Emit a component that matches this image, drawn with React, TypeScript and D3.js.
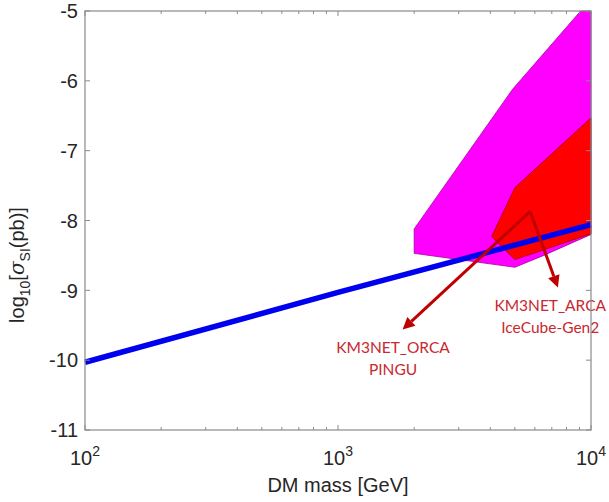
import * as d3 from "d3";

const W = 609;
const H = 502;
const margin = { top: 11, right: 18, bottom: 72, left: 85 };

// axis ticks
const xTickValues = [100, 1000, 10000];
const xTickExponents = ["2", "3", "4"];
const yTickValues = [-11, -10, -9, -8, -7, -6, -5];

// blue limit line
const lineMass = [100, 1000, 10000];
const lineSigma = [-10.03, -9.03, -8.06];

// magenta region (PINGU / ORCA)
const pinkMass = [2000, 2000, 5000, 6500, 10000, 10000, 9100, 4900];
const pinkSigma = [-8.12, -8.47, -8.67, -8.5, -8.2, -5, -5, -6.12];

// red region (ARCA / IceCube-Gen2)
const redMass = [10000, 5000, 4050, 5000, 10000];
const redSigma = [-6.53, -7.53, -8.23, -8.56, -8.19];

// annotation arrows, both start from the same point
const arrowFromMass = 5750;
const arrowFromSigma = -7.87;
const arrowToMass = [7400, 1800];
const arrowToSigma = [-8.96, -9.56];

// annotation labels
const labelLines = [
  ["KM3NET_ARCA", "IceCube-Gen2"],
  ["KM3NET_ORCA", "PINGU"],
];
const labelMass = [6900, 1650];
const labelSigma = [-9.29, -9.9];

const axisFont = "'Liberation Sans', Arial, sans-serif";
const noteColor = "#c8282e";
const arrowColor = "#c00000";

export default function App() {
  const innerW = W - margin.left - margin.right;
  const innerH = H - margin.top - margin.bottom;

  // log scale for mass, linear for log10(sigma)
  const x = d3.scaleLog().domain([100, 10000]).range([0, innerW]);
  const y = d3.scaleLinear().domain([-11, -5]).range([innerH, 0]);

  const line = d3
    .line<number>()
    .x((d, i) => x(lineMass[i]))
    .y((d) => y(d));

  const poly = (ms: number[], ss: number[]) =>
    ms.map((m, i) => `${x(m)},${y(ss[i])}`).join(" ");

  // minor ticks on the log axis
  const minorX: number[] = [];
  [100, 1000].forEach((dec) => {
    for (let k = 2; k <= 9; k++) minorX.push(dec * k);
  });

  const ax = x(arrowFromMass);
  const ay = y(arrowFromSigma);
  const arrows = arrowToMass.map((m, i) => {
    const tx = x(m);
    const ty = y(arrowToSigma[i]);
    const dx = tx - ax;
    const dy = ty - ay;
    const len = Math.hypot(dx, dy);
    const ux = dx / len;
    const uy = dy / len;
    const headL = 12;
    const headW = 6;
    const bx = tx - ux * headL;
    const by = ty - uy * headL;
    return {
      x2: bx,
      y2: by,
      head: `${tx},${ty} ${bx - uy * headW},${by + ux * headW} ${bx + uy * headW},${by - ux * headW}`,
    };
  });

  return (
    <svg
      width={W}
      height={H}
      style={{ position: "absolute", left: 0, top: 0, background: "#fff" }}
    >
      <g transform={`translate(${margin.left},${margin.top})`}>
        {/* regions */}
        <polygon
          points={poly(pinkMass, pinkSigma)}
          fill="#ff00ff"
          stroke="#a000a0"
          strokeWidth={0.8}
        />
        <polygon
          points={poly(redMass, redSigma)}
          fill="#ff0000"
          stroke="#a00000"
          strokeWidth={0.8}
        />

        {/* limit line */}
        <path
          d={line(lineSigma) || ""}
          fill="none"
          stroke="#0000f0"
          strokeWidth={5.5}
        />

        {/* arrows */}
        {arrows.map((a, i) => (
          <g key={i}>
            <line
              x1={ax}
              y1={ay}
              x2={a.x2}
              y2={a.y2}
              stroke={arrowColor}
              strokeWidth={3}
            />
            <polygon points={a.head} fill={arrowColor} />
          </g>
        ))}

        {/* labels */}
        {labelLines.map((lines, i) => (
          <text
            key={i}
            x={x(labelMass[i])}
            y={y(labelSigma[i])}
            textAnchor="middle"
            fontFamily="Lato, 'Open Sans', sans-serif"
            fontSize={15.5}
            fill={noteColor}
          >
            {lines.map((t, j) => (
              <tspan key={j} x={x(labelMass[i])} dy={j === 0 ? 0 : 22}>
                {t}
              </tspan>
            ))}
          </text>
        ))}

        {/* axes box */}
        <rect
          x={0}
          y={0}
          width={innerW}
          height={innerH}
          fill="none"
          stroke="#8a8a8a"
          strokeWidth={1.2}
        />
        {xTickValues.map((v) => (
          <g key={v} stroke="#8a8a8a">
            <line x1={x(v)} x2={x(v)} y1={innerH} y2={innerH - 5} />
            <line x1={x(v)} x2={x(v)} y1={0} y2={5} />
          </g>
        ))}
        {minorX.map((v) => (
          <g key={v} stroke="#8a8a8a">
            <line x1={x(v)} x2={x(v)} y1={innerH} y2={innerH - 3} />
            <line x1={x(v)} x2={x(v)} y1={0} y2={3} />
          </g>
        ))}
        {yTickValues.map((v) => (
          <g key={v} stroke="#8a8a8a">
            <line x1={0} x2={5} y1={y(v)} y2={y(v)} />
            <line x1={innerW} x2={innerW - 5} y1={y(v)} y2={y(v)} />
          </g>
        ))}

        {/* tick labels */}
        {yTickValues.map((v) => (
          <text
            key={v}
            x={-7}
            y={y(v)}
            dy="0.36em"
            textAnchor="end"
            fontFamily={axisFont}
            fontSize={20}
            fill="#262626"
          >
            {v}
          </text>
        ))}
        {xTickValues.map((v, i) => (
          <text
            key={v}
            x={x(v)}
            y={innerH + 35}
            textAnchor="middle"
            fontFamily={axisFont}
            fontSize={20}
            fill="#262626"
          >
            10
            <tspan dy={-9} fontSize={14}>
              {xTickExponents[i]}
            </tspan>
          </text>
        ))}

        {/* axis titles */}
        <text
          x={innerW / 2}
          y={innerH + 62}
          textAnchor="middle"
          fontFamily={axisFont}
          fontSize={20}
          fill="#262626"
        >
          DM mass [GeV]
        </text>
        <text
          transform={`translate(${-61},${254}) rotate(-90)`}
          textAnchor="middle"
          fontFamily={axisFont}
          fontSize={20}
          fill="#262626"
        >
          log
          <tspan dy={6} fontSize={14}>
            10
          </tspan>
          <tspan dy={-6}>[</tspan>
          <tspan fontStyle="italic" fontFamily="'DejaVu Serif', serif">
            σ
          </tspan>
          <tspan dy={6} fontSize={14}>
            SI
          </tspan>
          <tspan dy={-6}>(pb)]</tspan>
        </text>
      </g>
    </svg>
  );
}
